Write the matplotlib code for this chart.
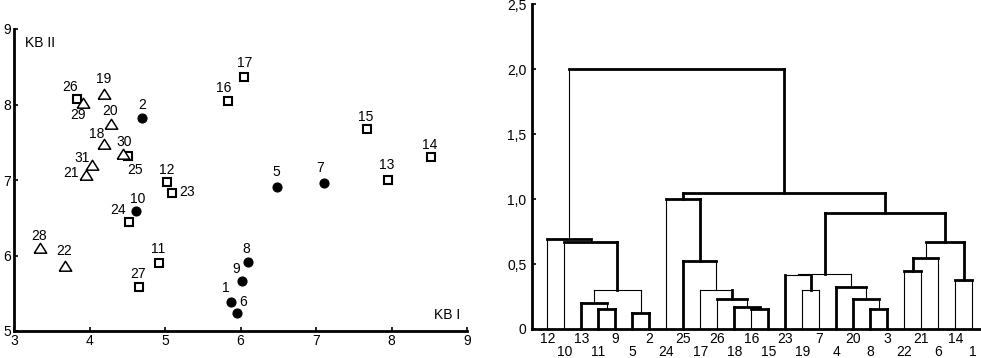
import matplotlib
matplotlib.use("Agg")
import matplotlib.pyplot as plt

plt.rcParams['font.family'] = ['Liberation Sans', 'DejaVu Sans']

# ---------------- scatter data (KB I, KB II) ----------------
circle_ids = [1, 2, 5, 6, 7, 8, 9, 10]
circle_x = [5.87, 4.70, 6.49, 5.95, 7.10, 6.10, 6.02, 4.62]
circle_y = [5.38, 7.82, 6.91, 5.24, 6.96, 5.91, 5.66, 6.59]

square_ids = [11, 12, 13, 14, 15, 16, 17, 23, 24, 25, 26, 27]
square_x = [4.92, 5.02, 7.95, 8.52, 7.68, 5.84, 6.05, 5.09, 4.52, 4.51, 3.84, 4.65]
square_y = [5.90, 6.97, 7.00, 7.30, 7.67, 8.05, 8.36, 6.83, 6.44, 7.32, 8.07, 5.58]

tri_ids = [18, 19, 20, 21, 22, 28, 29, 30, 31]
tri_x = [4.19, 4.19, 4.29, 3.96, 3.68, 3.35, 3.92, 4.45, 4.03]
tri_y = [7.48, 8.14, 7.74, 7.07, 5.86, 6.10, 8.02, 7.34, 7.20]

x_ticks = [3, 4, 5, 6, 7, 8, 9]
y_ticks = [5, 6, 7, 8, 9]

# ---------------- dendrogram data ----------------
leaf_order = [12, 10, 13, 11, 9, 5, 2, 24, 25, 17, 26, 18, 16, 15, 23, 19, 7, 4,
              20, 8, 3, 22, 21, 6, 14, 1]
merge_left = [5, 11, 8, 16, 18, 13, 26, 20, 'm6', 17, 19, 4, 14, 23, 'm14', 22,
              25, 'm16', 10, 'm18', 12, 'm15', 24, 'm23', 'm21']
merge_right = [2, 9, 3, 15, 'm4', 'm2', 'm5', 'm3', 'm1', 'm7', 7, 'm8', 1, 'm11',
               'm12', 21, 'm10', 6, 'm9', 'm13', 'm19', 'm20', 'm17', 'm22', 'm24']
merge_height = [0.125, 0.155, 0.155, 0.157, 0.172, 0.20, 0.228, 0.228, 0.30, 0.297,
                0.297, 0.325, 0.375, 0.415, 0.42, 0.449, 0.526, 0.549, 0.672, 0.672,
                0.692, 0.895, 1.00, 1.05, 2.00]
d_ticks = [0, 0.5, 1.0, 1.5, 2.0, 2.5]
d_tick_labels = ['0', '0,5', '1,0', '1,5', '2,0', '2,5']

# ---------------- styling (kept apart from data) ----------------
label_off = {26: (-7, -12), 29: (-5, 12), 19: (0, -15), 20: (-1, -13), 2: (0, -13),
             18: (-7, -10), 30: (1, -12), 25: (7, 14), 31: (-10, -7), 21: (-15, -2),
             12: (0, -12), 23: (15, -1), 10: (1, -12), 24: (-11, -12), 28: (-1, -12),
             22: (-1, -15), 11: (-1, -14), 27: (-1, -13), 8: (-2, -13), 9: (-6, -12),
             1: (-5, -14), 6: (6, -11), 16: (-5, -13), 17: (0, -14), 15: (-2, -12),
             14: (-1, -12), 13: (-1, -15), 5: (-1, -15), 7: (-3, -15)}
seg_style = ['TTT', 'TTT', 'TTT', 'tTT', 'TTt', 'TTt', 'tTt', 'TTt', 'ttt', 'ttT',
             'ttt', 'TTt', 'tTt', 'TtT', 'ttt', 'tTt', 'TTt', 'TTt', 'tTT', 'tTT',
             'tTt', 'TTT', 'tTT', 'TTT', 'tTT']
LW = {'T': 2.0, 't': 0.8}
FS = 10

W, H = 981, 358
fig = plt.figure(figsize=(W / 100, H / 100), dpi=100)

# ================= scatter =================
ax1 = fig.add_axes([14 / W, 27 / H, 453 / W, 302 / H])
ax1.set_xlim(3, 9)
ax1.set_ylim(5, 9)
ax1.plot(circle_x, circle_y, 'o', ms=6.5, mfc='black', mec='black', mew=0.8,
         linestyle='none', clip_on=False)
ax1.plot(square_x, square_y, 's', ms=5.2, mfc='white', mec='black', mew=1.5,
         linestyle='none', clip_on=False)
tri_marker = [(-1.2, -0.9), (1.2, -0.9), (0, 1.0), (-1.2, -0.9)]
ax1.plot(tri_x, tri_y, marker=tri_marker, ms=9, mfc='white', mec='black', mew=1.1,
         linestyle='none', clip_on=False)

for ids, xs, ys in ((circle_ids, circle_x, circle_y),
                    (square_ids, square_x, square_y),
                    (tri_ids, tri_x, tri_y)):
    for i, x, y in zip(ids, xs, ys):
        dx, dy = label_off[i]
        ax1.annotate(str(i), (x, y), xytext=(dx, -dy), textcoords='offset pixels',
                     ha='center', va='center', fontsize=FS)

ax1.text(3.14, 8.81, 'KB II', ha='left', va='center', fontsize=FS)
ax1.text(8.91, 5.21, 'KB I', ha='right', va='center', fontsize=FS)

ax1.set_xticks(x_ticks)
ax1.set_yticks(y_ticks)
ax1.set_xticklabels([str(v) for v in x_ticks])
ax1.set_yticklabels([str(v) for v in y_ticks])
for s in ('top', 'right'):
    ax1.spines[s].set_visible(False)
for s in ('left', 'bottom'):
    ax1.spines[s].set_linewidth(2.0)
ax1.tick_params(direction='in', length=3, width=1.2, pad=2, labelsize=FS)

# ================= dendrogram =================
ax2 = fig.add_axes([532 / W, 29 / H, 449 / W, 325 / H])
ax2.set_xlim(0.1, 26.5)
ax2.set_ylim(0, 2.5)

pos = {leaf: i + 1 for i, leaf in enumerate(leaf_order)}
hgt = {leaf: 0.0 for leaf in leaf_order}
for k, (a, b, h) in enumerate(zip(merge_left, merge_right, merge_height)):
    name = 'm%d' % (k + 1)
    xa, xb = pos[a], pos[b]
    ha_, hb_ = hgt[a], hgt[b]
    st = seg_style[k]
    ax2.plot([xa, xa], [ha_, h], color='black', lw=LW[st[0]],
             solid_capstyle='projecting', clip_on=False)
    ax2.plot([xa, xb], [h, h], color='black', lw=LW[st[1]],
             solid_capstyle='projecting', clip_on=False)
    ax2.plot([xb, xb], [hb_, h], color='black', lw=LW[st[2]],
             solid_capstyle='projecting', clip_on=False)
    pos[name] = (xa + xb) / 2
    hgt[name] = h

ax2.set_xticks(range(1, len(leaf_order) + 1))
ax2.set_xticklabels([str(l) if i % 2 == 0 else '\n' + str(l)
                     for i, l in enumerate(leaf_order)], linespacing=0.95)
ax2.set_yticks(d_ticks)
ax2.set_yticklabels(d_tick_labels)
for s in ('top', 'right'):
    ax2.spines[s].set_visible(False)
for s in ('left', 'bottom'):
    ax2.spines[s].set_linewidth(2.0)
ax2.tick_params(axis='y', direction='in', length=3, width=1.2, pad=4, labelsize=FS)
ax2.tick_params(axis='x', length=0, pad=2, labelsize=FS)

fig.savefig('out.png', dpi=100)
